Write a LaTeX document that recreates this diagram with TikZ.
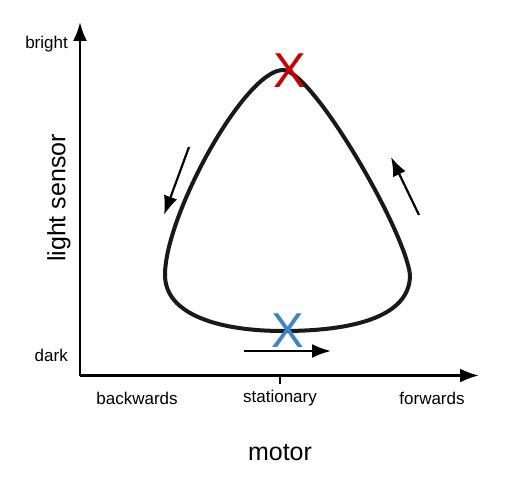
\documentclass[tikz,border=0pt]{standalone}
\usepackage{fontspec}
\setmainfont{Liberation Sans}
\usetikzlibrary{arrows.meta,positioning}
\definecolor{markred}{HTML}{CC0000}
\definecolor{markblue}{HTML}{3D85C6}
\tikzstyle{axis} = [draw, line width=2.6pt, -{Latex[length=19pt,width=14pt]}]
\tikzstyle{line} = [draw, line width=2.2pt, -{Latex[length=19pt,width=14pt]}]
\tikzstyle{cycleline} = [draw, line width=4pt, line join=round, color=black!90]
\tikzstyle{ticklabel} = [font=\fontsize{17}{20}\selectfont]
\tikzstyle{sidelabel} = [font=\fontsize{17}{20}\selectfont, anchor=east, inner sep=0pt]
\tikzstyle{title} = [font=\fontsize{25}{30}\selectfont]
\tikzstyle{xmark} = [font=\fontsize{49}{50}\selectfont, inner sep=0pt]

\begin{document}
\begin{tikzpicture}[x=1pt, y=-1pt]
      \useasboundingbox (0,0) rectangle (518,494);
      % axes
      \coordinate (origin) at (80,375.5);
      \coordinate (ytip) at (80,22);
      \coordinate (xtip) at (479,375.5);
      \path [axis] (origin) -- (ytip);
      \path [axis] (origin) -- (xtip);
      \coordinate (tick) at (280,375.5);
      \coordinate (tickend) at (280,384);
      \draw [line width=1.5pt] (tick) -- (tickend);
      % labels
      \node [sidelabel] (bright) at (68,44) {bright};
      \node [sidelabel] (dark) at (68,355) {dark};
      \node [title, rotate=90] (sensor) at (59,198) {light sensor};
      \node [ticklabel] (back) at (137,398) {backwards};
      \node [ticklabel] (stat) at (280,398) {stationary};
      \node [ticklabel] (fwd) at (432,398) {forwards};
      \node [title] (motor) at (280,453) {motor};
      % loop
      \coordinate (top) at (283,70);
      \coordinate (left) at (165,275);
      \coordinate (bottom) at (283,331);
      \coordinate (right) at (410,275);
      \path [cycleline] (top) .. controls (245,70) and (165,215) .. (left)
            .. controls (165,315) and (220,331) .. (bottom)
            .. controls (350,331) and (410,318) .. (right)
            .. controls (405,230) and (312,70) .. (top) -- cycle;
      % marks
      \node [xmark, text=markred] (up) at (290,71) {X};
      \node [xmark, text=markblue] (low) at (288,331) {X};
      % direction arrows
      \coordinate (a1) at (189,147);
      \coordinate (a2) at (164,215);
      \coordinate (b1) at (419,215);
      \coordinate (b2) at (391,157);
      \coordinate (c1) at (244,351);
      \coordinate (c2) at (331,351);
      \path [line] (a1) -- (a2);
      \path [line] (b1) -- (b2);
      \path [line] (c1) -- (c2);
  \end{tikzpicture}
\end{document}
